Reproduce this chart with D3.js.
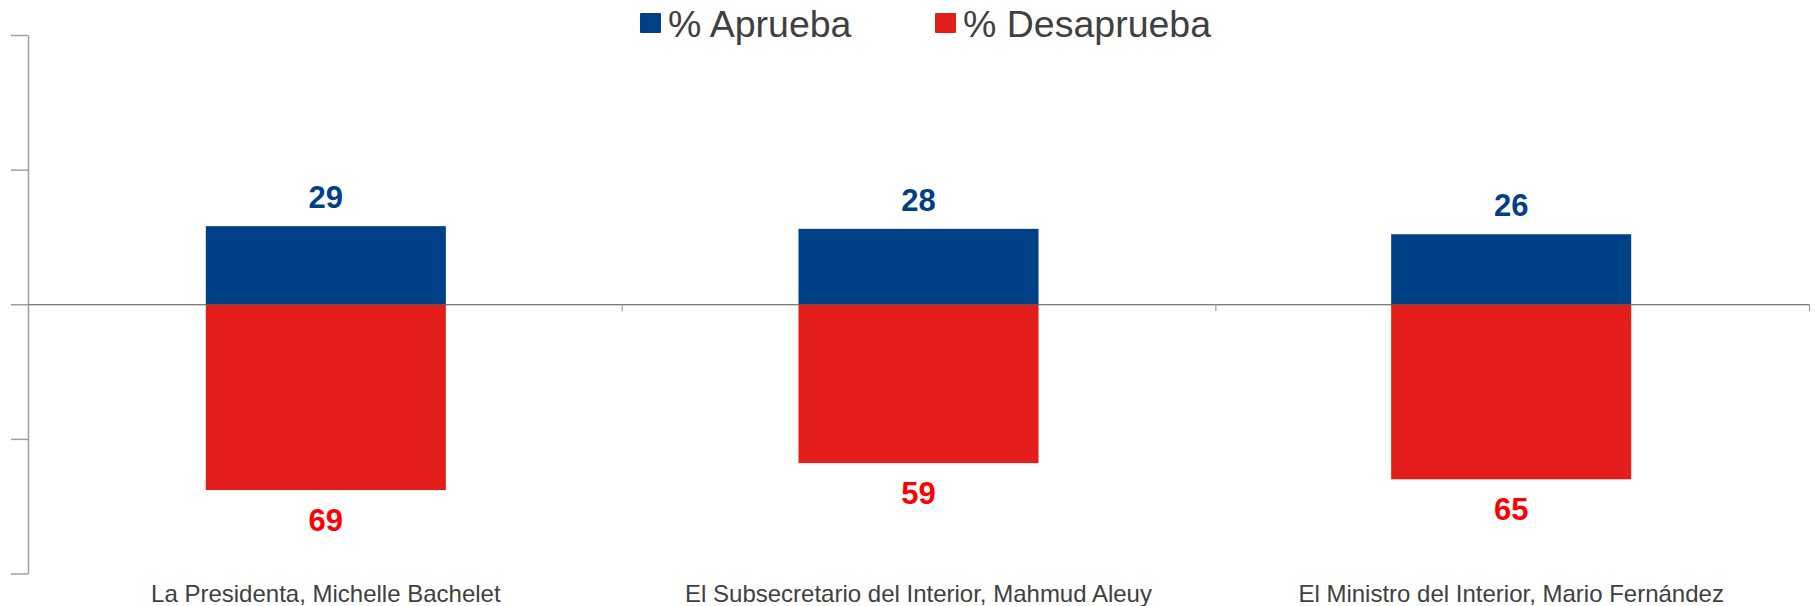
<!DOCTYPE html>
<html>
<head>
<meta charset="utf-8">
<script src="https://cdn.jsdelivr.net/npm/d3@7"></script>
<style>
  body { margin: 0; background: #fff; }
  svg { display: block; font-family: "Liberation Sans", Arial, sans-serif; }
</style>
</head>
<body>
<svg id="chart" width="1815" height="606"></svg>
<script>
  var categories = [
    "La Presidenta, Michelle Bachelet",
    "El Subsecretario del Interior, Mahmud Aleuy",
    "El Ministro del Interior, Mario Fernández"
  ];
  var aprueba = [29, 28, 26];
  var desaprueba = [69, 59, 65];
  var seriesNames = ["% Aprueba", "% Desaprueba"];
  var yTicks = [-100, -50, 0, 50, 100];

  (function() {
    var blue = "#004087", red = "#e31e1a";

    var svg = d3.select("#chart");
    var plotLeft = 28, plotRight = 1809, plotTop = 35, plotBottom = 573.5;

    var y = d3.scaleLinear().domain([-100, 100]).range([plotBottom, plotTop]);
    var x = d3.scaleBand().domain(categories).range([plotLeft, plotRight])
      .paddingInner(0.595).paddingOuter(0.3);
    var xEdge = d3.scaleLinear().domain([0, categories.length]).range([plotLeft, plotRight]);

    // y axis, no labels
    var yAxis = svg.append("g")
      .attr("transform", "translate(" + plotLeft + ",0)")
      .call(d3.axisLeft(y).tickValues(yTicks).tickFormat("").tickSize(17).tickSizeOuter(0));
    yAxis.selectAll("path, line").attr("stroke", "#a0a0a0").attr("stroke-width", 1.5);

    var rows = categories.map(function(c, i) {
      return { cat: c, a: aprueba[i], d: desaprueba[i] };
    });

    // bars
    svg.append("g").selectAll("rect").data(rows).enter().append("rect")
      .attr("x", function(d) { return x(d.cat); })
      .attr("width", x.bandwidth())
      .attr("y", function(d) { return y(d.a); })
      .attr("height", function(d) { return y(0) - y(d.a); })
      .attr("fill", blue);

    svg.append("g").selectAll("rect").data(rows).enter().append("rect")
      .attr("x", function(d) { return x(d.cat); })
      .attr("width", x.bandwidth())
      .attr("y", y(0))
      .attr("height", function(d) { return y(-d.d) - y(0); })
      .attr("fill", red);

    // x axis along zero, ticks at category edges
    var xAxis = svg.append("g")
      .attr("transform", "translate(0," + y(0) + ")")
      .call(d3.axisBottom(xEdge).tickValues([1, 2, 3]).tickFormat("").tickSize(7).tickSizeOuter(0));
    xAxis.select("path").attr("stroke", "#505050").attr("stroke-width", 1.2);
    xAxis.selectAll("line").attr("stroke", "#a0a0a0").attr("stroke-width", 1.2);

    // value labels
    svg.append("g").selectAll("text").data(rows).enter().append("text")
      .attr("x", function(d) { return x(d.cat) + x.bandwidth() / 2; })
      .attr("y", function(d) { return y(d.a) - 18; })
      .attr("text-anchor", "middle")
      .attr("font-size", 31).attr("font-weight", "bold")
      .attr("fill", blue)
      .text(function(d) { return d.a; });

    svg.append("g").selectAll("text").data(rows).enter().append("text")
      .attr("x", function(d) { return x(d.cat) + x.bandwidth() / 2; })
      .attr("y", function(d) { return y(-d.d) + 41; })
      .attr("text-anchor", "middle")
      .attr("font-size", 31).attr("font-weight", "bold")
      .attr("fill", "#ff0000")
      .text(function(d) { return d.d; });

    // category labels
    svg.append("g").selectAll("text").data(categories).enter().append("text")
      .attr("x", function(d) { return x(d) + x.bandwidth() / 2; })
      .attr("y", 602)
      .attr("text-anchor", "middle")
      .attr("font-size", 24)
      .attr("fill", "#404040")
      .text(function(d) { return d; });

    // legend
    var legendX = [640, 935];
    var legend = svg.append("g").selectAll("g").data(seriesNames).enter().append("g")
      .attr("transform", function(d, i) { return "translate(" + legendX[i] + ",0)"; });
    legend.append("rect")
      .attr("x", 0).attr("y", 13).attr("width", 21).attr("height", 20).attr("rx", 1)
      .attr("fill", function(d, i) { return i === 0 ? blue : red; });
    legend.append("text")
      .attr("x", 28).attr("y", 36.5)
      .attr("font-size", 37.5)
      .attr("fill", "#404040")
      .text(function(d) { return d; });
  })();
</script>
</body>
</html>
